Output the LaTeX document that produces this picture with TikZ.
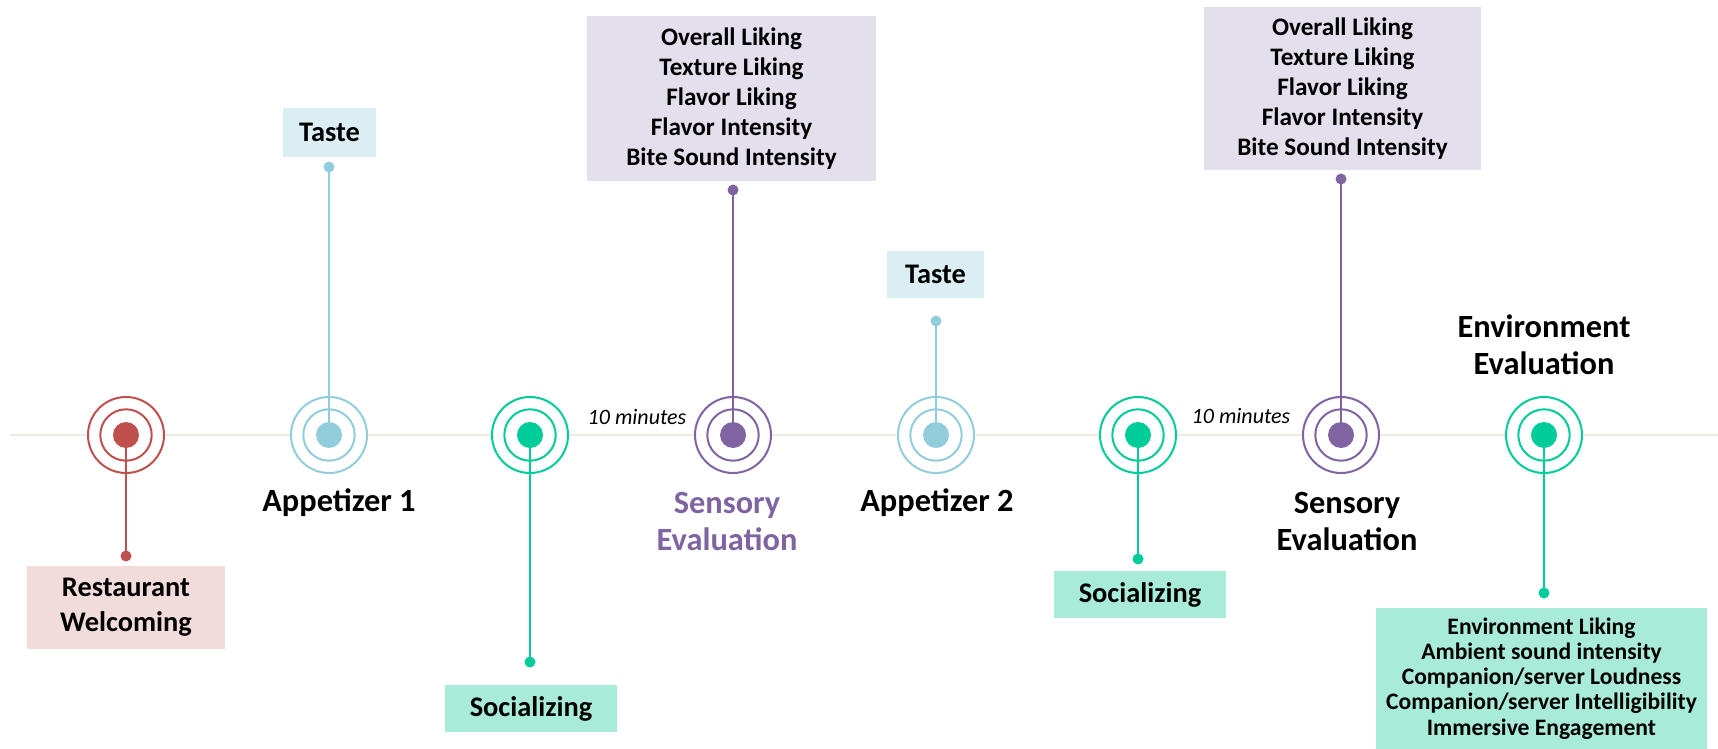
\documentclass[tikz,border=0pt]{standalone}
\usepackage{fontspec}
\setmainfont{Carlito}
\definecolor{evred}{HTML}{C0504D}
\definecolor{evredbg}{HTML}{F2DCDB}
\definecolor{evblue}{HTML}{92CDDC}
\definecolor{evbluebg}{HTML}{DAEEF3}
\definecolor{evgreen}{HTML}{00CC99}
\definecolor{evgreenbg}{HTML}{A8EBD9}
\definecolor{evpurple}{HTML}{8064A2}
\definecolor{evpurplebg}{HTML}{E4DFEC}
\definecolor{tlgray}{HTML}{EEECE1}
\begin{document}
\begin{tikzpicture}[
            x=0.5pt, y=-0.5pt,
            timeline/.style={draw=tlgray, line width=1pt},
            target/.style={circle, draw=#1, line width=1pt, fill=white, minimum size=38pt, inner sep=0pt,
                path picture={
                    \draw[#1, line width=1pt] (path picture bounding box.center) circle (12.85pt);
                    \fill[#1] (path picture bounding box.center) circle (6.5pt);
                }},
            pin/.style={circle, fill=#1, minimum size=5.5pt, inner sep=0pt},
            stem/.style={draw=#1, line width=1pt},
            infobox/.style={fill=#1, inner sep=0pt, align=center},
            bigtext/.style={font=\fontsize{14.2}{17.5}\selectfont\bfseries},
            listtext/.style={font=\fontsize{12.6}{15}\selectfont\bfseries},
            smalltext/.style={font=\fontsize{11.8}{12.6}\selectfont\bfseries},
            stage/.style={align=center, font=\fontsize{16.2}{18.5}\selectfont\bfseries},
            gap/.style={font=\fontsize{11}{13}\selectfont\itshape},
        ]
        \useasboundingbox (0,0) rectangle (1718,749);
        \coordinate (line-start) at (10,435);
        \coordinate (line-end) at (1718,435);
        \draw[timeline] (line-start) -- (line-end);

        % welcoming
        \node[target=evred] (welcome) at (126,435) {};
        \node[pin=evred] (welcome-pin) at (126,556) {};
        \draw[stem=evred] (welcome.center) -- (welcome-pin.center);
        \node[infobox=evredbg, bigtext, minimum width=99pt, minimum height=41.5pt] (welcome-box) at (126,607.5) {Restaurant\\Welcoming};

        % appetizer 1
        \node[target=evblue] (app1) at (329,435) {};
        \node[pin=evblue] (app1-pin) at (329,167) {};
        \draw[stem=evblue] (app1.center) -- (app1-pin.center);
        \node[infobox=evbluebg, bigtext, minimum width=46.5pt, minimum height=24.5pt] (app1-box) at (329.5,132.5) {Taste};
        \node[stage] (app1-label) at (339,503) {Appetizer 1};

        % socializing 1
        \node[target=evgreen] (soc1) at (530,435) {};
        \node[pin=evgreen] (soc1-pin) at (530,662) {};
        \draw[stem=evgreen] (soc1.center) -- (soc1-pin.center);
        \node[infobox=evgreenbg, bigtext, minimum width=86pt, minimum height=23.5pt] (soc1-box) at (531,708.5) {Socializing};
        \node[gap] (wait1) at (637,417) {10 minutes};

        % sensory evaluation 1
        \node[target=evpurple] (sens1) at (733,435) {};
        \node[pin=evpurple] (sens1-pin) at (733,190) {};
        \draw[stem=evpurple] (sens1.center) -- (sens1-pin.center);
        \node[infobox=evpurplebg, listtext, minimum width=144.5pt, minimum height=82.5pt] (sens1-box) at (731.5,98.5) {Overall Liking\\Texture Liking\\Flavor Liking\\Flavor Intensity\\Bite Sound Intensity};
        \node[stage, text=evpurple] (sens1-label) at (727,521) {Sensory\\Evaluation};

        % appetizer 2
        \node[target=evblue] (app2) at (936,435) {};
        \node[pin=evblue] (app2-pin) at (936,321) {};
        \draw[stem=evblue] (app2.center) -- (app2-pin.center);
        \node[infobox=evbluebg, bigtext, minimum width=48.5pt, minimum height=23.5pt] (app2-box) at (935.5,274.5) {Taste};
        \node[stage] (app2-label) at (937,503) {Appetizer 2};

        % socializing 2
        \node[target=evgreen] (soc2) at (1138,435) {};
        \node[pin=evgreen] (soc2-pin) at (1138,559) {};
        \draw[stem=evgreen] (soc2.center) -- (soc2-pin.center);
        \node[infobox=evgreenbg, bigtext, minimum width=86pt, minimum height=23.5pt] (soc2-box) at (1140,594.5) {Socializing};
        \node[gap] (wait2) at (1241,416) {10 minutes};

        % sensory evaluation 2
        \node[target=evpurple] (sens2) at (1341,435) {};
        \node[pin=evpurple] (sens2-pin) at (1341,179) {};
        \draw[stem=evpurple] (sens2.center) -- (sens2-pin.center);
        \node[infobox=evpurplebg, listtext, minimum width=138.5pt, minimum height=81.5pt] (sens2-box) at (1342.5,88.5) {Overall Liking\\Texture Liking\\Flavor Liking\\Flavor Intensity\\Bite Sound Intensity};
        \node[stage] (sens2-label) at (1347,521) {Sensory\\Evaluation};

        % environment evaluation
        \node[target=evgreen] (env) at (1544,435) {};
        \node[pin=evgreen] (env-pin) at (1544,593) {};
        \draw[stem=evgreen] (env.center) -- (env-pin.center);
        \node[infobox=evgreenbg, smalltext, minimum width=165.5pt, minimum height=70.5pt] (env-box) at (1541.5,678.5) {Environment Liking\\Ambient sound intensity\\Companion/server Loudness\\Companion/server Intelligibility\\Immersive Engagement};
        \node[stage] (env-label) at (1544,345) {Environment\\Evaluation};
        \end{tikzpicture}
\end{document}
